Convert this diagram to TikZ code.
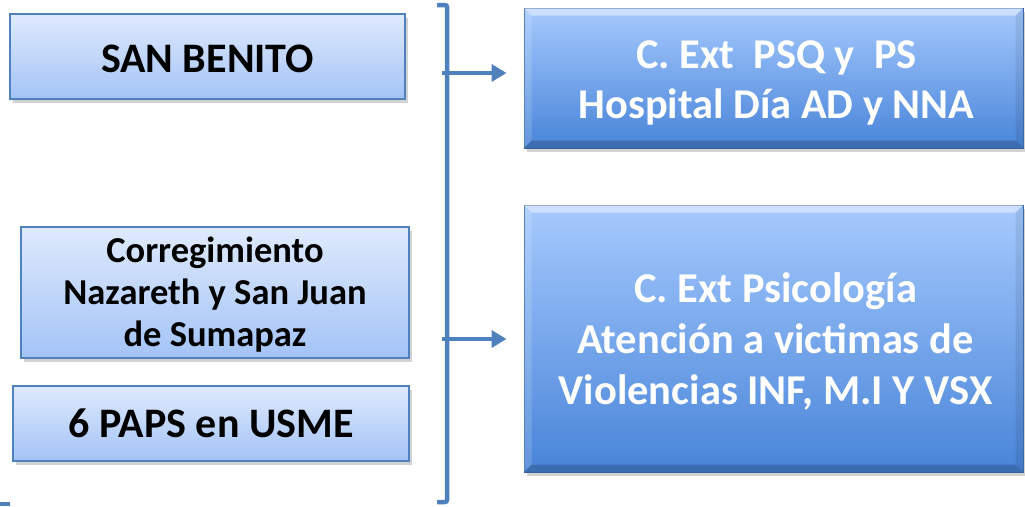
\documentclass[tikz,border=0pt]{standalone}
\usepackage{fontspec}
\setmainfont{Carlito}
\usetikzlibrary{shadows,calc,arrows.meta}
\definecolor{lineblue}{HTML}{4F81BD}
\definecolor{ltop}{HTML}{DFEAFD}
\definecolor{lbot}{HTML}{A3C3F6}
\definecolor{rtop}{HTML}{A6CAFE}
\definecolor{rbot}{HTML}{4884D8}
\definecolor{rborder}{HTML}{3E6DAE}
\tikzset{
  softshadow/.style={drop shadow={shadow xshift=3pt, shadow yshift=-4pt, opacity=0.25, fill=black!70}},
  lbox/.style={draw=lineblue, line width=1.5pt, top color=ltop, bottom color=lbot,
    inner sep=0pt, softshadow},
  rbox/.style={draw=rborder, line width=1pt, top color=rtop, bottom color=rbot,
    inner sep=0pt, softshadow},
  ltext/.style={align=center, inner sep=0pt, text=black},
  rtext/.style={align=center, inner sep=0pt, text=white},
  brk/.style={draw=lineblue, line width=4.5pt},
  arr/.style={draw=lineblue, line width=4pt, -{Triangle[length=15pt,width=17pt]}}
}
\newcommand{\bevel}[1]{%
  \fill[white, opacity=0.45] (#1.north west) -- (#1.north east) -- ($(#1.north east)+(-8,8)$) -- ($(#1.north west)+(8,8)$) -- cycle;
  \fill[white, opacity=0.15] (#1.north west) -- ($(#1.north west)+(8,8)$) -- ($(#1.south west)+(8,-8)$) -- (#1.south west) -- cycle;
  \fill[black, opacity=0.08] (#1.north east) -- ($(#1.north east)+(-8,8)$) -- ($(#1.south east)+(-8,-8)$) -- (#1.south east) -- cycle;
  \fill[black, opacity=0.18] (#1.south west) -- ($(#1.south west)+(8,-8)$) -- ($(#1.south east)+(-8,-8)$) -- (#1.south east) -- cycle;
}
\begin{document}
\begin{tikzpicture}[x=1pt,y=-1pt]
\useasboundingbox (0,0) rectangle (1025,506);
% left boxes
\node[lbox, minimum width=395pt, minimum height=85pt] (sb) at (207.5,56.5) {};
\node[ltext, font=\bfseries\fontsize{42}{50}\selectfont] (sbt) at ($(sb.center)+(0,2)$) {SAN BENITO};
\node[lbox, minimum width=388pt, minimum height=131pt] (cor) at (215,292.5) {};
\node[ltext, font=\bfseries\fontsize{36.5}{42}\selectfont] (cort) at ($(cor.center)+(0,2)$)
  {Corregimiento\\Nazareth y San Juan\\de Sumapaz};
\node[lbox, minimum width=396pt, minimum height=75pt] (paps) at (211,423.5) {};
\node[ltext, font=\bfseries\fontsize{42}{50}\selectfont] (papst) at ($(paps.center)+(0,0)$) {6 PAPS en USME};
% right boxes
\node[rbox, minimum width=499pt, minimum height=140pt] (r1) at (773.5,78) {};
\bevel{r1}
\node[rtext, font=\bfseries\fontsize{42.4}{50}\selectfont] (r1t) at ($(r1.center)+(3,5)$)
  {C. Ext\ \ PSQ y\ \ PS\\Hospital Día AD y NNA};
\node[rbox, minimum width=499pt, minimum height=267pt] (r2) at (773.5,338.5) {};
\bevel{r2}
\node[rtext, font=\bfseries\fontsize{42.5}{51}\selectfont] (r2t) at ($(r2.center)+(2,3)$)
  {C. Ext Psicología\\Atención a victimas de\\Violencias INF, M.I Y VSX};
% bracket
\coordinate (bt) at (437,5);
\coordinate (bb) at (437,502);
\draw[brk, rounded corners=2pt] (bt) -- (447,5) -- (447,502) -- (bb);
\coordinate (a1) at (442,73);
\coordinate (a2) at (442,339);
\draw[arr, shorten >=17pt] (a1) -- (a1 -| r1.west);
\draw[arr, shorten >=17pt] (a2) -- (a2 -| r2.west);
% small cut-off mark at bottom left
\coordinate (m1) at (0,504);
\coordinate (m2) at (10,504);
\draw[brk] (m1) -- (m2);
\end{tikzpicture}
\end{document}
